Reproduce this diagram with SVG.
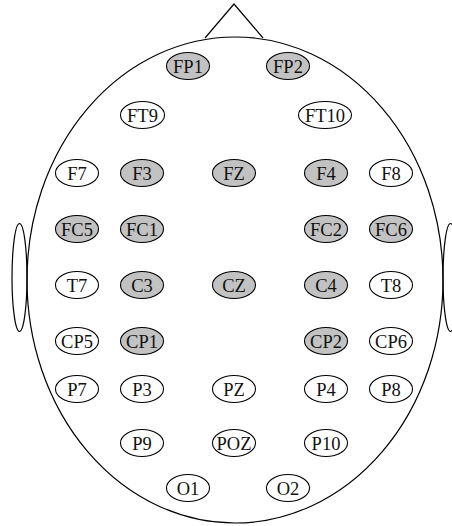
<svg xmlns="http://www.w3.org/2000/svg" width="452" height="526" viewBox="0 0 452 526">
<style>
.h{fill:none;stroke:#000;stroke-width:1.2}
.n{fill:#fff;stroke:#000;stroke-width:1.1}
.g{fill:#c2c2c2;stroke:#000;stroke-width:1.1}
text{font-family:"Liberation Serif","DejaVu Serif",serif;font-size:18.5px;text-anchor:middle;dominant-baseline:central;fill:#111}
</style>
<rect width="452" height="526" fill="#fff"/>
<g id="head">
<polyline class="h" points="205,38 234,4 263,38"/>
<ellipse class="h" cx="19.5" cy="277.5" rx="7.5" ry="54"/>
<ellipse class="h" cx="450.5" cy="277.5" rx="7.5" ry="54"/>
<ellipse class="h" cx="235" cy="280" rx="208" ry="243" fill="#fff"/>
</g>
<g id="connectors"/>
<g id="FP1"><ellipse class="g" cx="188" cy="66" rx="21.5" ry="13.5"/><text x="188" y="67">FP1</text></g>
<g id="FP2"><ellipse class="g" cx="288" cy="66" rx="21.5" ry="13.5"/><text x="288" y="67">FP2</text></g>
<g id="FT9"><ellipse class="n" cx="142.5" cy="115" rx="22" ry="13.5"/><text x="142.5" y="116">FT9</text></g>
<g id="FT10"><ellipse class="n" cx="325" cy="115" rx="26.5" ry="13.5"/><text x="325" y="116">FT10</text></g>
<g id="F7"><ellipse class="n" cx="77" cy="173" rx="21.5" ry="13.5"/><text x="77" y="174">F7</text></g>
<g id="F3"><ellipse class="g" cx="142" cy="173" rx="21.5" ry="13.5"/><text x="142" y="174">F3</text></g>
<g id="FZ"><ellipse class="g" cx="234" cy="173" rx="21.5" ry="13.5"/><text x="234" y="174">FZ</text></g>
<g id="F4"><ellipse class="g" cx="326" cy="173" rx="21.5" ry="13.5"/><text x="326" y="174">F4</text></g>
<g id="F8"><ellipse class="n" cx="391" cy="173" rx="21.5" ry="13.5"/><text x="391" y="174">F8</text></g>
<g id="FC5"><ellipse class="g" cx="77" cy="229" rx="21.5" ry="13.5"/><text x="77" y="230">FC5</text></g>
<g id="FC1"><ellipse class="g" cx="142" cy="229" rx="21.5" ry="13.5"/><text x="142" y="230">FC1</text></g>
<g id="FC2"><ellipse class="g" cx="326" cy="229" rx="21.5" ry="13.5"/><text x="326" y="230">FC2</text></g>
<g id="FC6"><ellipse class="g" cx="391" cy="229" rx="21.5" ry="13.5"/><text x="391" y="230">FC6</text></g>
<g id="T7"><ellipse class="n" cx="77" cy="285" rx="21.5" ry="13.5"/><text x="77" y="286">T7</text></g>
<g id="C3"><ellipse class="g" cx="142" cy="285" rx="21.5" ry="13.5"/><text x="142" y="286">C3</text></g>
<g id="CZ"><ellipse class="g" cx="234" cy="285" rx="21.5" ry="13.5"/><text x="234" y="286">CZ</text></g>
<g id="C4"><ellipse class="g" cx="326" cy="285" rx="21.5" ry="13.5"/><text x="326" y="286">C4</text></g>
<g id="T8"><ellipse class="n" cx="391" cy="285" rx="21.5" ry="13.5"/><text x="391" y="286">T8</text></g>
<g id="CP5"><ellipse class="n" cx="77" cy="341" rx="21.5" ry="13.5"/><text x="77" y="342">CP5</text></g>
<g id="CP1"><ellipse class="g" cx="142" cy="341" rx="21.5" ry="13.5"/><text x="142" y="342">CP1</text></g>
<g id="CP2"><ellipse class="g" cx="326" cy="341" rx="21.5" ry="13.5"/><text x="326" y="342">CP2</text></g>
<g id="CP6"><ellipse class="n" cx="391" cy="341" rx="21.5" ry="13.5"/><text x="391" y="342">CP6</text></g>
<g id="P7"><ellipse class="n" cx="77" cy="389" rx="21.5" ry="13.5"/><text x="77" y="390">P7</text></g>
<g id="P3"><ellipse class="n" cx="142" cy="389" rx="21.5" ry="13.5"/><text x="142" y="390">P3</text></g>
<g id="PZ"><ellipse class="n" cx="234" cy="389" rx="21.5" ry="13.5"/><text x="234" y="390">PZ</text></g>
<g id="P4"><ellipse class="n" cx="326" cy="389" rx="21.5" ry="13.5"/><text x="326" y="390">P4</text></g>
<g id="P8"><ellipse class="n" cx="391" cy="389" rx="21.5" ry="13.5"/><text x="391" y="390">P8</text></g>
<g id="P9"><ellipse class="n" cx="142" cy="443" rx="21.5" ry="13.5"/><text x="142" y="444">P9</text></g>
<g id="POZ"><ellipse class="n" cx="234" cy="443" rx="21.5" ry="13.5"/><text x="234" y="444">POZ</text></g>
<g id="P10"><ellipse class="n" cx="326" cy="443" rx="21.5" ry="13.5"/><text x="326" y="444">P10</text></g>
<g id="O1"><ellipse class="n" cx="188" cy="488" rx="21.5" ry="13.5"/><text x="188" y="489">O1</text></g>
<g id="O2"><ellipse class="n" cx="288" cy="488" rx="21.5" ry="13.5"/><text x="288" y="489">O2</text></g>
</svg>
